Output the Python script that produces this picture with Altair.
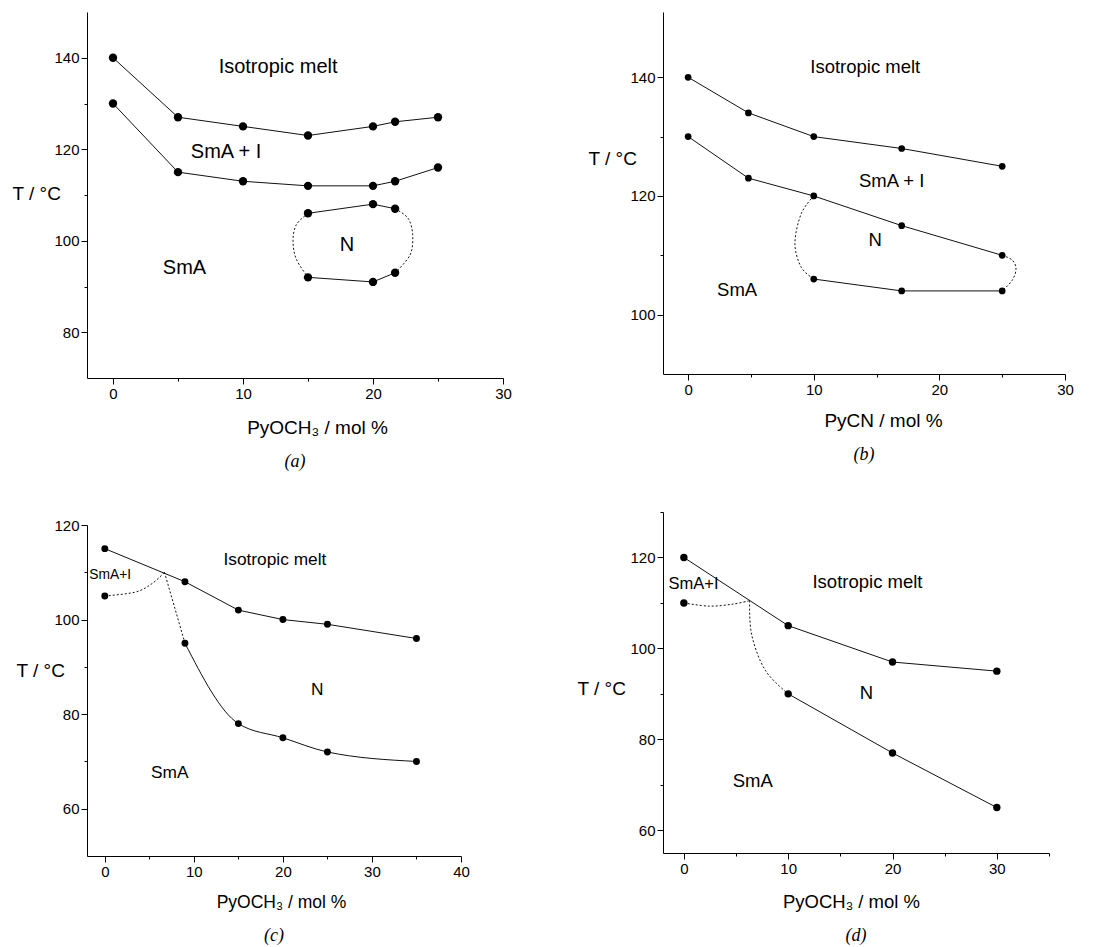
import altair as alt
import pandas as pd

# ---------------- panel (a) : PyOCH3 ----------------
a_x = [0, 5, 10, 15, 20, 21.7, 25]
a_upper = [140, 127, 125, 123, 125, 126, 127]
a_lower = [130, 115, 113, 112, 112, 113, 116]
a_n_x = [15, 20, 21.7]
a_n_top = [106, 108, 107]
a_n_bottom = [92, 91, 93]
a_loopL_x = [15, 14.1, 13.85, 14.1, 15]
a_loopL_t = [106, 103.5, 100, 96, 92]
a_loopR_x = [21.7, 22.7, 23.05, 22.85, 21.7]
a_loopR_t = [107, 104.9, 101.3, 96.9, 93]
a_lab_text = ["Isotropic melt", "SmA + I", "SmA", "N"]
a_lab_x = [12.7, 8.7, 5.5, 18.0]
a_lab_t = [138, 119.5, 94, 99]

# ---------------- panel (b) : PyCN ----------------
b_x = [0, 4.8, 10, 17, 25]
b_upper = [140, 134, 130, 128, 125]
b_lower = [130, 123, 120, 115, 110]
b_n_x = [10, 17, 25]
b_n_bottom = [106, 104, 104]
b_loopL_x = [10, 9.0, 8.5, 9.0, 10]
b_loopL_t = [120, 117, 112, 108, 106]
b_loopR_x = [25, 25.8, 26.1, 25.8, 25]
b_loopR_t = [110, 109.2, 107.7, 105.8, 104]
b_lab_text = ["Isotropic melt", "SmA + I", "N", "SmA"]
b_lab_x = [14.1, 16.2, 14.9, 3.9]
b_lab_t = [141.7, 122.6, 112.5, 104.2]

# ---------------- panel (c) : PyOCH3 ----------------
c_x_upper = [0, 9, 15, 20, 25, 35]
c_upper = [115, 108, 102, 100, 99, 96]
c_x_lower = [9, 15, 20, 25, 35]
c_lower = [95, 78, 75, 72, 70]
c_extra_x = [0]
c_extra_t = [105]
c_dot1_x = [0, 3.4, 5.3, 6.7]
c_dot1_t = [105, 105.8, 107.6, 110]
c_dot2_x = [6.7, 9]
c_dot2_t = [110, 95]
c_lab_text = ["Isotropic melt", "N", "SmA"]
c_lab_x = [19.1, 23.85, 7.3]
c_lab_t = [112.7, 85.1, 67.6]
c_small_text = ["SmA+I"]
c_small_x = [0.6]
c_small_t = [109.5]

# ---------------- panel (d) : PyOCH3 ----------------
d_x_upper = [0, 10, 20, 30]
d_upper = [120, 105, 97, 95]
d_x_lower = [10, 20, 30]
d_lower = [90, 77, 65]
d_extra_x = [0]
d_extra_t = [110]
d_dot1_x = [0, 2.4, 4.6, 6.3]
d_dot1_t = [110, 109.3, 109.7, 110.5]
d_dot2_x = [6.3, 6.5, 7.8, 10]
d_dot2_t = [110.5, 103, 95.2, 90]
d_lab_text = ["Isotropic melt", "N", "SmA"]
d_lab_x = [17.6, 17.5, 6.6]
d_lab_t = [114.6, 90.2, 70.8]
d_small_text = ["SmA+I"]
d_small_x = [0.93]
d_small_t = [114.1]

FONT = "Liberation Sans"


def series(name, xs, ts):
    return pd.DataFrame({"s": name, "x": xs, "t": ts, "i": list(range(len(xs)))})


def labels(texts, xs, ts):
    return pd.DataFrame({"text": texts, "x": xs, "t": ts})


def panel(solid, smooth, dotted, points, labs, small_labs, xdom, ydom, xvals, yvals,
          w, h, xtitle, xtitle_x, xtitle_y, xtitle_size, ytitle_x, ytitle_y,
          caption, label_size, small_size, point_size):
    xenc = alt.X(
        "x:Q",
        scale=alt.Scale(domain=xdom, nice=False, zero=False),
        axis=alt.Axis(
            values=xvals,
            labelExpr="datum.value % 10 === 0 ? datum.label : ''",
            tickSize={"condition": {"test": "datum.value % 10 === 0", "value": 6}, "value": 3},
            title=xtitle, titleX=xtitle_x, titleY=xtitle_y, titleAlign="center",
            titleBaseline="alphabetic", titleFontSize=xtitle_size,
            labelFlush=False, labelOverlap=False, labelFontSize=15,
        ),
    )
    yenc = alt.Y(
        "t:Q",
        scale=alt.Scale(domain=ydom, nice=False, zero=False),
        axis=alt.Axis(
            values=yvals,
            labelExpr="datum.value % 20 === 0 ? datum.label : ''",
            tickSize={"condition": {"test": "datum.value % 20 === 0", "value": 6}, "value": 3},
            title="T / °C", titleAngle=0, titleAlign="left", titleBaseline="middle",
            titleX=ytitle_x, titleY=ytitle_y, titleFontSize=19,
            labelFlush=False, labelOverlap=False, labelFontSize=15,
        ),
    )
    layers = []
    if solid is not None:
        layers.append(alt.Chart(solid).mark_line(color="#111", strokeWidth=1).encode(
            x=xenc, y=yenc, detail="s:N", order="i:Q"))
    if smooth is not None:
        layers.append(alt.Chart(smooth).mark_line(color="#111", strokeWidth=1, interpolate="monotone").encode(
            x=xenc, y=yenc, detail="s:N", order="i:Q"))
    if dotted is not None:
        layers.append(alt.Chart(dotted).mark_line(color="#111", strokeWidth=1, strokeDash=[2, 2],
                                                  interpolate="cardinal").encode(
            x=xenc, y=yenc, detail="s:N", order="i:Q"))
    layers.append(alt.Chart(points).mark_circle(color="black", opacity=1, size=point_size).encode(
        x=xenc, y=yenc))
    layers.append(alt.Chart(labs).mark_text(font=FONT, fontSize=label_size, color="black").encode(
        x=xenc, y=yenc, text="text:N"))
    if small_labs is not None:
        layers.append(alt.Chart(small_labs).mark_text(font=FONT, fontSize=small_size, color="black").encode(
            x=xenc, y=yenc, text="text:N"))
    return alt.layer(*layers).properties(
        width=w, height=h,
        title=alt.TitleParams(text=caption, orient="bottom", frame="group", anchor="middle",
                              font="Liberation Serif", fontStyle="italic", fontWeight="normal",
                              fontSize=18, color="black", offset=16),
    )


# ---- build panel data ----
a_solid = pd.concat([
    series("up", a_x, a_upper), series("low", a_x, a_lower),
    series("ntop", a_n_x, a_n_top), series("nbot", a_n_x, a_n_bottom)])
a_dot = pd.concat([series("L", a_loopL_x, a_loopL_t), series("R", a_loopR_x, a_loopR_t)])
a_pts = a_solid

b_solid = pd.concat([
    series("up", b_x, b_upper), series("low", b_x, b_lower), series("nbot", b_n_x, b_n_bottom)])
b_dot = pd.concat([series("L", b_loopL_x, b_loopL_t), series("R", b_loopR_x, b_loopR_t)])
b_pts = b_solid

c_solid = series("up", c_x_upper, c_upper)
c_smooth = series("low", c_x_lower, c_lower)
c_dot = pd.concat([series("d1", c_dot1_x, c_dot1_t), series("d2", c_dot2_x, c_dot2_t)])
c_pts = pd.concat([c_solid, c_smooth, series("e", c_extra_x, c_extra_t)])

d_solid = pd.concat([series("up", d_x_upper, d_upper), series("low", d_x_lower, d_lower)])
d_dot = pd.concat([series("d1", d_dot1_x, d_dot1_t), series("d2", d_dot2_x, d_dot2_t)])
d_pts = pd.concat([d_solid, series("e", d_extra_x, d_extra_t)])

pa = panel(a_solid, None, a_dot, a_pts, labels(a_lab_text, a_lab_x, a_lab_t), None,
           [-2, 30], [70, 150], [0, 5, 10, 15, 20, 25, 30], [80, 90, 100, 110, 120, 130, 140],
           416, 366, "PyOCH₃ / mol %", 230, 55, 19, -75, 181, "(a)", 20, 20, 70)

pb = panel(b_solid, None, b_dot, b_pts, labels(b_lab_text, b_lab_x, b_lab_t), None,
           [-2, 30], [90, 151], [0, 5, 10, 15, 20, 25, 30], [100, 110, 120, 130, 140],
           402, 362, "PyCN / mol %", 220, 52, 19, -75, 146, "(b)", 18.5, 18.5, 45)

pc = panel(c_solid, c_smooth, c_dot, c_pts, labels(c_lab_text, c_lab_x, c_lab_t),
           labels(c_small_text, c_small_x, c_small_t),
           [-2, 40], [50, 120], [0, 5, 10, 15, 20, 25, 30, 35, 40], [60, 70, 80, 90, 100, 110, 120],
           374, 331, "PyOCH₃ / mol %", 194, 51, 17.5, -71, 145, "(c)", 17.3, 13.8, 48)

pd_ = panel(d_solid, None, d_dot, d_pts, labels(d_lab_text, d_lab_x, d_lab_t),
            labels(d_small_text, d_small_x, d_small_t),
            [-2, 35], [55, 130], [0, 5, 10, 15, 20, 25, 30, 35], [60, 70, 80, 90, 100, 110, 120, 130],
            386, 341, "PyOCH₃ / mol %", 188, 54, 18.5, -86, 176, "(d)", 18.5, 16.5, 55)

col1 = alt.vconcat(pa, pc, spacing=147, bounds="flush")
col2 = alt.vconcat(pb, pd_, spacing=138, bounds="flush")

chart = alt.hconcat(col1, col2, spacing=65).properties(
    padding={"left": 12, "top": 12, "right": 0, "bottom": 0},
    background="white",
).configure_view(stroke=None).configure_axis(
    grid=False, domainColor="black", tickColor="black", labelColor="black",
    titleColor="black", labelFont=FONT, titleFont=FONT,
    titleFontWeight="normal", labelPadding=2, domainWidth=1, tickWidth=1,
)

chart.save("out.html", embed_options={"renderer": "svg", "actions": False})
